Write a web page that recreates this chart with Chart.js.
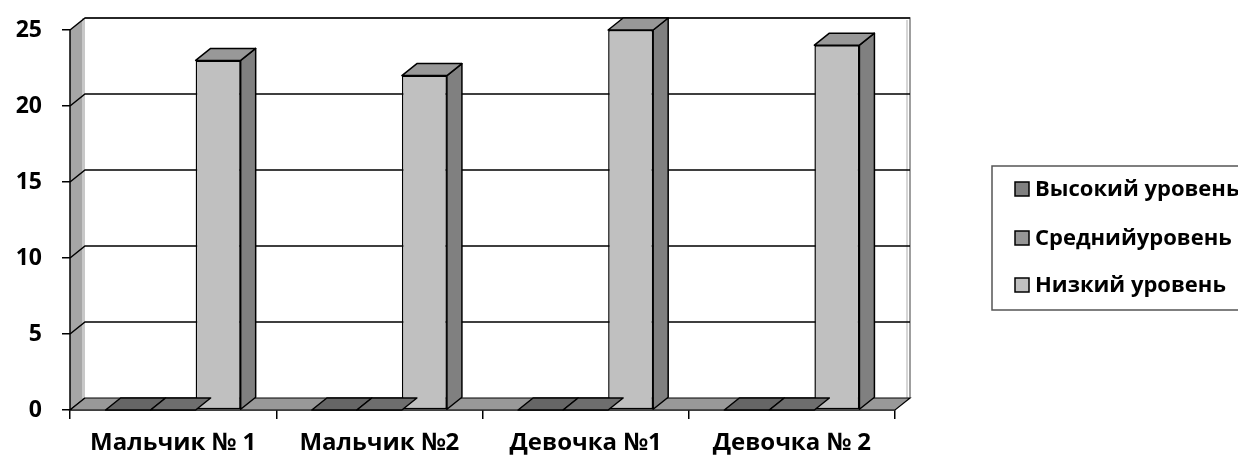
<!DOCTYPE html>
<html>
<head>
<meta charset="utf-8">
<script src="https://cdn.jsdelivr.net/npm/chart.js@4"></script>
<style>
  html, body { margin: 0; padding: 0; background: #fff; }
  #wrap { width: 1238px; height: 468px; }
</style>
</head>
<body>
<div id="wrap"><canvas id="chart"></canvas></div>
<script>
const categories = ['Мальчик № 1', 'Мальчик №2', 'Девочка №1', 'Девочка № 2'];
const seriesNames = ['Высокий уровень', 'Среднийуровень', 'Низкий уровень'];
const highLevel = [0, 0, 0, 0];
const midLevel = [0, 0, 0, 0];
const lowLevel = [23, 22, 25, 24];
const yTicks = [0, 5, 10, 15, 20, 25];

const FONT = '"Open Sans", "DejaVu Sans", sans-serif';
const DX = 15, DY = -12;   // depth offset of the 3d look
const fronts = ['#808080', '#969696', '#c0c0c0'];
const tops = ['#666666', '#6e6e6e', '#989898'];
const sides = ['#5a5a5a', '#606060', '#808080'];

function poly(ctx, pts, fill, stroke) {
  ctx.beginPath();
  ctx.moveTo(pts[0][0], pts[0][1]);
  for (let i = 1; i < pts.length; i++) ctx.lineTo(pts[i][0], pts[i][1]);
  ctx.closePath();
  if (fill) { ctx.fillStyle = fill; ctx.fill(); }
  if (stroke) { ctx.strokeStyle = stroke; ctx.stroke(); }
}

const depth3d = {
  id: 'depth3d',
  beforeDatasetsDraw(chart) {
    const { ctx, chartArea: a, scales: { y } } = chart;
    ctx.save();
    ctx.lineWidth = 1.5;
    // side wall
    poly(ctx, [[a.left, a.top], [a.left + DX, a.top + DY], [a.left + DX, a.bottom + DY], [a.left, a.bottom]], '#a6a6a6');
    ctx.fillStyle = '#c8c8c8';
    ctx.fillRect(a.left + DX - 3, a.top + DY, 3, a.bottom - a.top);
    // back wall outline
    ctx.strokeStyle = '#808080';
    ctx.beginPath();
    ctx.moveTo(a.left + DX, a.top + DY);
    ctx.lineTo(a.right + DX, a.top + DY);
    ctx.lineTo(a.right + DX, a.bottom + DY);
    ctx.stroke();
    ctx.strokeStyle = '#c8c8c8';
    ctx.beginPath();
    ctx.moveTo(a.right + DX - 3, a.top + DY + 2);
    ctx.lineTo(a.right + DX - 3, a.bottom + DY);
    ctx.stroke();
    // grid lines on back and side walls
    ctx.strokeStyle = '#000';
    y.ticks.forEach(t => {
      const py = y.getPixelForValue(t.value);
      ctx.beginPath();
      ctx.moveTo(a.left, py);
      ctx.lineTo(a.left + DX, py + DY);
      if (t.value !== 0) ctx.lineTo(a.right + DX, py + DY);
      ctx.stroke();
    });
    // left edge
    ctx.beginPath();
    ctx.moveTo(a.left, a.top);
    ctx.lineTo(a.left, a.bottom);
    ctx.stroke();
    // floor
    ctx.lineWidth = 1.2;
    poly(ctx, [[a.left, a.bottom], [a.right, a.bottom], [a.right + DX, a.bottom + DY], [a.left + DX, a.bottom + DY]], '#999999', '#000');
    ctx.restore();
  },
  afterDatasetsDraw(chart) {
    const { ctx } = chart;
    ctx.save();
    ctx.lineWidth = 1.5;
    ctx.lineJoin = 'round';
    chart.data.datasets.forEach((ds, di) => {
      const meta = chart.getDatasetMeta(di);
      meta.data.forEach(el => {
        const { x, y, base, width } = el.getProps(['x', 'y', 'base', 'width'], true);
        const l = x - width / 2, r = x + width / 2;
        if (base - y > 1) {
          poly(ctx, [[r, y], [r + DX, y + DY], [r + DX, base + DY], [r, base]], sides[di], '#000');
        }
        poly(ctx, [[l, y], [r, y], [r + DX, y + DY], [l + DX, y + DY]], tops[di], '#000');
      });
    });
    ctx.restore();
  },
  afterDraw(chart) {
    const { ctx } = chart;
    ctx.save();
    // legend
    ctx.lineWidth = 1.5;
    ctx.strokeStyle = '#555';
    ctx.strokeRect(992, 166, 300, 144);
    const rows = [189, 238, 285];
    ctx.font = 'bold 22px ' + FONT;
    ctx.textBaseline = 'middle';
    ctx.textAlign = 'left';
    seriesNames.forEach((name, i) => {
      ctx.fillStyle = fronts[i];
      ctx.fillRect(1015, rows[i] - 7, 14, 14);
      ctx.strokeStyle = '#000';
      ctx.strokeRect(1015, rows[i] - 7, 14, 14);
      ctx.fillStyle = '#000';
      ctx.fillText(name, 1035, rows[i] + 1);
    });
    ctx.restore();
  }
};

function makeSet(label, data, i) {
  return {
    label,
    data,
    backgroundColor: fronts[i],
    borderColor: '#000',
    borderWidth: 1.5,
    borderSkipped: false,
    categoryPercentage: 0.655,
    barPercentage: 1
  };
}

new Chart(document.getElementById('chart'), {
  type: 'bar',
  data: {
    labels: categories,
    datasets: [
      makeSet(seriesNames[0], highLevel, 0),
      makeSet(seriesNames[1], midLevel, 1),
      makeSet(seriesNames[2], lowLevel, 2)
    ]
  },
  options: {
    responsive: true,
    maintainAspectRatio: false,
    animation: false,
    layout: { padding: { top: 30, right: 343, left: 0, bottom: 0 } },
    plugins: {
      legend: { display: false },
      tooltip: { enabled: false }
    },
    scales: {
      x: {
        afterFit: s => { s.height = 58; s.paddingLeft = 0; s.paddingRight = 0; },
        grid: { offset: true, drawOnChartArea: false, tickLength: 9, color: '#000', lineWidth: 1.5 },
        border: { display: true, color: '#000', width: 1.5 },
        ticks: { color: '#000', padding: 10, font: { family: FONT, size: 24, weight: 'bold' } }
      },
      y: {
        min: 0,
        max: 25,
        afterFit: s => { s.width = 70; s.paddingTop = 0; s.paddingBottom = 0; },
        afterBuildTicks: s => { s.ticks = yTicks.map(v => ({ value: v })); },
        grid: { drawOnChartArea: false, tickLength: 8, color: '#000', lineWidth: 1.5 },
        border: { display: false },
        ticks: { color: '#000', padding: 20, font: { family: FONT, size: 23, weight: 'bold' } }
      }
    }
  },
  plugins: [depth3d]
});
</script>
</body>
</html>
